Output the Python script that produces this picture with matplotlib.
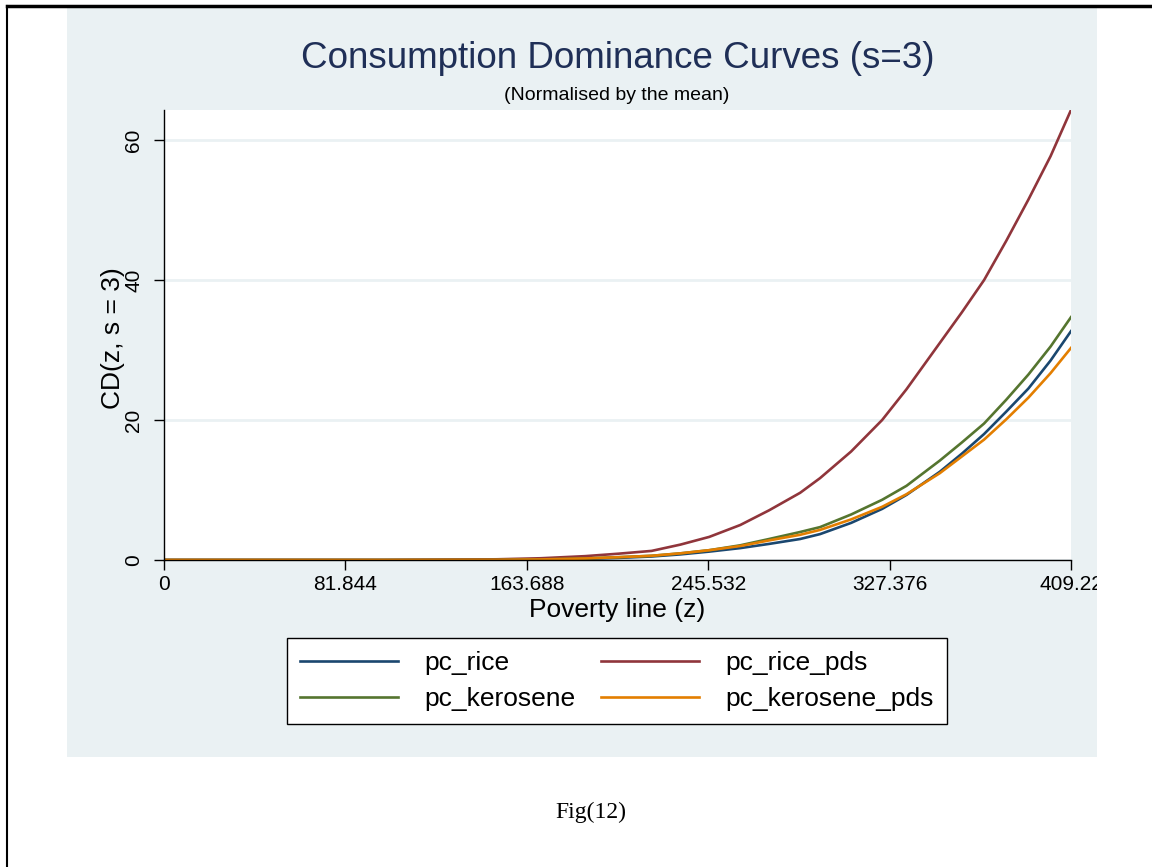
import matplotlib.pyplot as plt
from matplotlib.patches import Rectangle
from matplotlib.lines import Line2D

# values (poverty line z, CD(z, s=3))
z = [0, 100, 150, 170, 190, 205, 220, 233, 246, 260, 273, 287, 296, 310, 324,
     335, 350, 360, 370, 380, 390, 400, 409.22]
pc_rice = [0, 0, 0.02, 0.05, 0.15, 0.3, 0.5, 0.8, 1.2, 1.7, 2.3, 3.0, 3.7, 5.3, 7.3,
           9.3, 12.6, 15.2, 18.0, 21.2, 24.5, 28.5, 32.7]
pc_rice_pds = [0, 0, 0.1, 0.25, 0.55, 0.9, 1.3, 2.2, 3.3, 5.0, 7.1, 9.6, 11.7, 15.5, 20.0,
               24.4, 31.0, 35.4, 40.0, 45.6, 51.5, 57.7, 64.3]
pc_kerosene = [0, 0, 0.02, 0.08, 0.22, 0.4, 0.6, 0.95, 1.4, 2.1, 3.0, 4.0, 4.7, 6.5, 8.6,
               10.6, 14.2, 16.8, 19.5, 22.9, 26.5, 30.5, 34.7]
pc_kerosene_pds = [0, 0, 0.02, 0.08, 0.22, 0.4, 0.6, 0.95, 1.4, 2.0, 2.8, 3.6, 4.3, 5.8, 7.6,
                   9.4, 12.4, 14.8, 17.2, 20.1, 23.2, 26.7, 30.3]

series = [pc_rice, pc_rice_pds, pc_kerosene, pc_kerosene_pds]
labels = ["pc_rice", "pc_rice_pds", "pc_kerosene", "pc_kerosene_pds"]
colors = ["#1a476f", "#90353b", "#55752f", "#e37e00"]

xticks = [0, 81.844, 163.688, 245.532, 327.376, 409.22]
xticklabels = ["0", "81.844", "163.688", "245.532", "327.376", "409.22"]
yticks = [0, 20, 40, 60]

W, H = 1152, 867
plt.rcParams['font.family'] = ['Liberation Sans', 'DejaVu Sans']
fig = plt.figure(figsize=(W / 100, H / 100), dpi=100)

# page border (left and top only visible)
fig.add_artist(Line2D([7 / W, 7 / W], [0, 1 - 6 / H], color="black", lw=1.5))
fig.add_artist(Line2D([7 / W, 1], [1 - 6 / H, 1 - 6 / H], color="black", lw=2.5))

# graph region
panel = Rectangle((67 / W, 1 - 757 / H), (1097 - 67) / W, (757 - 8) / H,
                  transform=fig.transFigure, facecolor="#eaf1f3", edgecolor="none", zorder=0)
fig.add_artist(panel)

ax = fig.add_axes([164 / W, 1 - 560 / H, (1071 - 164) / W, (560 - 110) / H])
ax.set_facecolor("white")

handles = []
for vals, lab, col in zip(series, labels, colors):
    (ln,) = ax.plot(z, vals, color=col, lw=1.9, label=lab)
    handles.append(ln)

ax.set_xlim(0, 409.22)
ax.set_ylim(0, 64.3)
ax.set_xticks(xticks)
ax.set_xticklabels(xticklabels)
ax.set_yticks(yticks)
ax.set_yticklabels([str(v) for v in yticks], rotation=90, va="center")
ax.tick_params(axis="both", length=7, width=1, labelsize=15, colors="black")
ax.tick_params(axis="x", pad=4)
ax.tick_params(axis="y", pad=8)
for lab in ax.get_xticklabels():
    lab.set_clip_path(panel)
    lab.set_clip_on(True)

ax.yaxis.grid(True, color="#eaf1f3", lw=2)
ax.set_axisbelow(True)
for side in ["top", "right"]:
    ax.spines[side].set_visible(False)
ax.spines["left"].set_linewidth(1)
ax.spines["bottom"].set_linewidth(1)

ax.set_xlabel("Poverty line (z)", fontsize=19, va="center")
ax.xaxis.set_label_coords(0.5, (560 - 610) / 450)
ax.set_ylabel("CD(z, s = 3)", fontsize=19, va="center", ha="center")
ax.yaxis.set_label_coords((113 - 164) / 907, (560 - 338) / 450)

fig.text(618 / W, 1 - 58 / H, "Consumption Dominance Curves (s=3)", ha="center", va="center",
         fontsize=26.5, color="#1f2f57")
fig.text(617 / W, 1 - 96 / H, "(Normalised by the mean)", ha="center", va="center", fontsize=14)

# Stata fills the legend row by row
order = [0, 2, 1, 3]
leg = ax.legend([handles[i] for i in order], [labels[i] for i in order],
                ncol=2, loc="upper left", mode="expand",
                bbox_to_anchor=(287 / W, 1 - 722 / H, (947 - 287) / W, (722 - 638) / H),
                bbox_transform=fig.transFigure, fontsize=19, handlelength=3.7,
                frameon=True, fancybox=False, framealpha=1, borderaxespad=0,
                handletextpad=1.0, labelspacing=0.45, borderpad=0.5)
leg.get_frame().set_edgecolor("black")
leg.get_frame().set_facecolor("white")
leg.get_frame().set_linewidth(1)

fig.text(591 / W, 1 - 812 / H, "Fig(12)", ha="center", va="center", fontsize=17,
         family="Liberation Serif")

fig.savefig("out.png", dpi=100, facecolor="white")
